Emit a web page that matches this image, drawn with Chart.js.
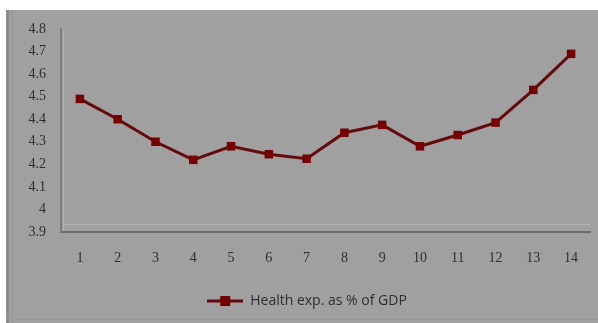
<!DOCTYPE html>
<html>
<head>
<meta charset="utf-8">
<script src="https://cdn.jsdelivr.net/npm/chart.js@4/dist/chart.umd.min.js"></script>
<style>
  html, body { margin: 0; padding: 0; background: #ffffff; }
  #wrap { width: 598px; height: 323px; }
</style>
</head>
<body>
<div id="wrap"><canvas id="c" width="598" height="323"></canvas></div>
<script>
// Health expenditure as a share of GDP, periods 1–14
const periods = ['1', '2', '3', '4', '5', '6', '7', '8', '9', '10', '11', '12', '13', '14'];
const healthExpPct = [4.49, 4.40, 4.30, 4.22, 4.28, 4.245, 4.225, 4.34, 4.375, 4.28, 4.33, 4.385, 4.53, 4.69];
const yMin = 3.9;
const yMax = 4.8;
const yStep = 0.1;
const seriesLabel = 'Health exp. as % of GDP';

const lineColor = '#650a0a';
const markerColor = '#760000';
const textColor = '#2e2e2e';

// Legend symbol: short line with a square marker in the middle
function legendSymbol() {
  const cv = document.createElement('canvas');
  cv.width = 36; cv.height = 12;
  const g = cv.getContext('2d');
  g.strokeStyle = lineColor;
  g.lineWidth = 3;
  g.beginPath(); g.moveTo(0, 6); g.lineTo(36, 6); g.stroke();
  g.fillStyle = markerColor;
  g.fillRect(13, 1, 10, 10);
  return cv;
}

// Grey panel with a darker left edge and a subtle floor line under the plot
const panel = {
  id: 'panel',
  beforeDraw(chart) {
    const ctx = chart.ctx;
    ctx.save();
    ctx.fillStyle = '#ffffff';
    ctx.fillRect(0, 0, chart.width, chart.height);
    ctx.fillStyle = '#a0a0a0';
    ctx.fillRect(6, 10, chart.width - 6, chart.height - 10);
    ctx.fillStyle = '#8c8c8c';
    ctx.fillRect(6, 10, 3, chart.height - 10);
    ctx.fillStyle = '#989898';
    ctx.fillRect(12, 10, 1, chart.height - 10);
    ctx.fillRect(6, chart.height - 4, chart.width - 6, 1);
    const a = chart.chartArea;
    ctx.fillStyle = '#b2b2b2';
    ctx.fillRect(a.left + 4, a.bottom - 8, a.right - a.left - 4, 1);
    ctx.fillStyle = '#b0b0b0';
    ctx.fillRect(a.left + 2, a.top, 1, a.bottom - a.top);
    ctx.restore();
  }
};

new Chart(document.getElementById('c'), {
  type: 'line',
  data: {
    labels: periods,
    datasets: [{
      label: seriesLabel,
      data: healthExpPct,
      borderColor: lineColor,
      borderWidth: 3,
      backgroundColor: markerColor,
      pointStyle: 'rect',
      pointRadius: 6,
      pointBorderWidth: 0,
      pointBackgroundColor: markerColor,
      tension: 0,
      fill: false
    }]
  },
  options: {
    responsive: false,
    animation: false,
    devicePixelRatio: 1,
    layout: { padding: { left: 24, right: 8, top: 29, bottom: 5 } },
    plugins: {
      tooltip: { enabled: false },
      legend: {
        position: 'bottom',
        labels: {
          usePointStyle: true,
          pointStyleWidth: 36,
          padding: 12,
          color: textColor,
          font: { family: 'Open Sans', size: 14 },
          generateLabels(chart) {
            return chart.data.datasets.map((ds, i) => ({
              text: ds.label,
              pointStyle: legendSymbol(),
              fontColor: textColor,
              lineWidth: 0,
              strokeStyle: 'transparent',
              fillStyle: markerColor,
              datasetIndex: i
            }));
          }
        }
      }
    },
    scales: {
      x: {
        type: 'category',
        offset: true,
        grid: { display: false, drawTicks: false },
        border: { display: true, color: '#6c6c6c', width: 2 },
        ticks: {
          color: textColor,
          padding: 18,
          font: { family: 'Liberation Serif', size: 14 }
        },
        afterFit(scale) { scale.height = 50; }
      },
      y: {
        min: yMin,
        max: yMax,
        grid: { display: false, drawTicks: false },
        border: { display: true, color: '#7c7c7c', width: 2 },
        ticks: {
          stepSize: yStep,
          color: textColor,
          padding: 15,
          font: { family: 'Liberation Serif', size: 14 },
          callback(v) { return String(Number(Number(v).toFixed(1))); }
        },
        afterFit(scale) { scale.width = 37; }
      }
    }
  },
  plugins: [panel]
});
</script>
</body>
</html>
